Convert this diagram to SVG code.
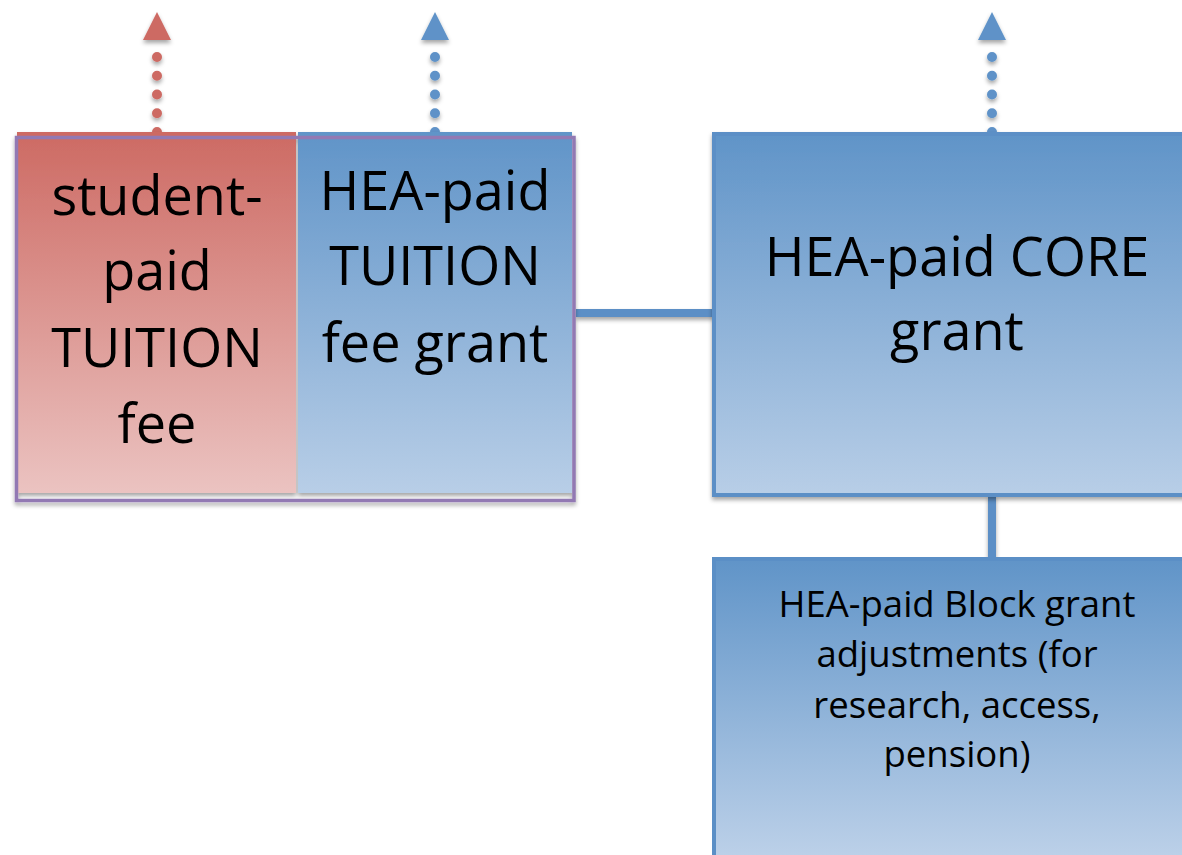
<svg xmlns="http://www.w3.org/2000/svg" width="1182" height="855" viewBox="0 0 1182 855">
<defs>
  <linearGradient id="gRed" x1="0" y1="0" x2="0" y2="1">
    <stop offset="0" stop-color="#cd6a63"/>
    <stop offset="1" stop-color="#ebc3c1"/>
  </linearGradient>
  <linearGradient id="gBlue" x1="0" y1="0" x2="0" y2="1">
    <stop offset="0" stop-color="#6094c8"/>
    <stop offset="1" stop-color="#b8cee7"/>
  </linearGradient>
  <linearGradient id="gBlock" gradientUnits="userSpaceOnUse" x1="0" y1="559" x2="0" y2="880">
    <stop offset="0" stop-color="#6094c8"/>
    <stop offset="1" stop-color="#c3d5eb"/>
  </linearGradient>
  <filter id="sh" x="-10%" y="-10%" width="120%" height="125%">
    <feDropShadow dx="0" dy="3" stdDeviation="2" flood-color="#000" flood-opacity="0.35"/>
  </filter>
  <marker id="arRed" markerUnits="userSpaceOnUse" viewBox="0 0 28 28" refX="0" refY="14" markerWidth="28" markerHeight="28" orient="auto">
    <path d="M0,0 L28,14 L0,28 z" fill="#cd6a63"/>
  </marker>
  <marker id="arBlue" markerUnits="userSpaceOnUse" viewBox="0 0 28 28" refX="0" refY="14" markerWidth="28" markerHeight="28" orient="auto">
    <path d="M0,0 L28,14 L0,28 z" fill="#5e92c8"/>
  </marker>
  <style>
    .big { font-family: "Open Sans", "Liberation Sans", sans-serif; font-size: 54px; fill: #000; text-anchor: middle; }
    .small { font-family: "Open Sans", "Liberation Sans", sans-serif; font-size: 36.5px; fill: #000; text-anchor: middle; }
    .dotR { fill: none; stroke: #cd6a63; stroke-width: 10; stroke-linecap: round; stroke-dasharray: 0 18.75; }
    .dotB { fill: none; stroke: #5e92c8; stroke-width: 10; stroke-linecap: round; stroke-dasharray: 0 18.75; }
    .conn { fill: none; stroke: #5b8fc6; stroke-width: 8; }
    .bbox { stroke: #5b8fc6; stroke-width: 4; }
  </style>
</defs>

<g id="connectors" filter="url(#sh)">
  <line class="conn" x1="576" y1="313" x2="714" y2="313"/>
  <line class="conn" x1="992" y1="495" x2="992" y2="559"/>
  <path class="dotR" d="M157,132 L157,40" marker-end="url(#arRed)"/>
  <path class="dotB" d="M435,132 L435,40" marker-end="url(#arBlue)"/>
  <path class="dotB" d="M992,132 L992,40" marker-end="url(#arBlue)"/>
</g>

<g id="tuition-group" filter="url(#sh)">
  <g id="student-tuition">
    <rect x="17" y="132" width="279" height="361" fill="url(#gRed)"/>
    <text class="big" x="157" y="215">student-</text>
    <text class="big" x="157" y="290">paid</text>
    <text class="big" x="157" y="367">TUITION</text>
    <text class="big" x="157" y="443">fee</text>
  </g>
  <g id="hea-tuition">
    <rect x="298" y="132" width="274" height="361" fill="url(#gBlue)"/>
    <text class="big" x="435" y="210">HEA-paid</text>
    <text class="big" x="435" y="285">TUITION</text>
    <text class="big" x="435" y="362">fee grant</text>
  </g>
  <rect id="tuition-outline" x="16.5" y="137.5" width="557.5" height="363" fill="none" stroke="#9279b3" stroke-width="3.5"/>
</g>

<g id="core-grant" filter="url(#sh)">
  <rect class="bbox" x="714" y="134" width="520" height="361" fill="url(#gBlue)"/>
  <text class="big" x="957" y="276">HEA-paid CORE</text>
  <text class="big" x="957" y="350">grant</text>
</g>

<g id="block-grant">
  <rect class="bbox" x="714" y="559" width="520" height="340" fill="url(#gBlock)"/>
  <text class="small" x="957" y="617">HEA-paid Block grant</text>
  <text class="small" x="957" y="667">adjustments (for</text>
  <text class="small" x="957" y="718">research, access,</text>
  <text class="small" x="957" y="767">pension)</text>
</g>
</svg>
